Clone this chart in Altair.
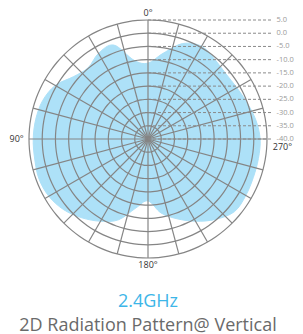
import altair as alt
import pandas as pd

# ---- data ----
ring_db = [5, 0, -5, -10, -15, -20, -25, -30, -35]
scale_db = [5, 0, -5, -10, -15, -20, -25, -30, -35, -40]
scale_text = ["5.0", "0.0", "-5.0", "-10.0", "-15.0", "-20.0", "-25.0", "-30.0", "-35.0", "-40.0"]
spoke_deg = list(range(0, 360, 15))

pattern_deg = list(range(0, 360, 10))
pattern_db = [-11.3, -9.8, -2.2, -2.6, -4.8, -3.3, 0.5, 2.4, 3.1, 3.4,
              3.5, 3.9, 3.3, 1.6, -1.1, -4.1, -7.5, -13.5, -16.6, -11.6,
              -7.9, -4.1, -0.3, 2.7, 2.7, 2.4, 2.4, 2.4, 1.4, -0.1,
              -1.2, -1.6, -0.7, 0.5, -1.6, -7.1]

angle_text = ["0°", "90°", "180°", "270°"]
angle_deg = [0, 90, 180, 270]

FLOOR = -40
R = 119
W = 2 * R
xs = alt.Scale(domain=[-45, 45], nice=False, zero=False)
ys = alt.Scale(domain=[-45, 45], nice=False, zero=False)

GRID = "#858585"
FILL = "#ade1f8"

pat = pd.DataFrame({"deg": pattern_deg, "db": pattern_db, "i": range(len(pattern_deg))})
pattern = alt.Chart(pat).transform_calculate(
    r=f"datum.db - ({FLOOR})"
).transform_calculate(
    x="-datum.r * sin(datum.deg * PI / 180)",
    y="datum.r * cos(datum.deg * PI / 180)",
).mark_line(interpolate="cardinal-closed", fill=FILL, stroke=FILL, strokeWidth=1).encode(
    x=alt.X("x:Q", scale=xs, axis=None),
    y=alt.Y("y:Q", scale=ys, axis=None),
    order="i:Q",
)

# grid circles traced around the centre and closed smoothly
ring_rows = [{"db": d, "deg": a, "i": k} for d in ring_db for k, a in enumerate(range(0, 360, 5))]
rings = alt.Chart(pd.DataFrame(ring_rows)).transform_calculate(
    r=f"datum.db - ({FLOOR})"
).transform_calculate(
    x="-datum.r * sin(datum.deg * PI / 180)",
    y="datum.r * cos(datum.deg * PI / 180)",
).mark_line(interpolate="cardinal-closed", stroke=GRID, strokeWidth=1.2).encode(
    x=alt.X("x:Q", scale=xs, axis=None),
    y=alt.Y("y:Q", scale=ys, axis=None),
    detail="db:N",
    order="i:Q",
)

spokes = alt.Chart(pd.DataFrame({"deg": spoke_deg})).transform_calculate(
    x0="0", y0="0",
    x1="-45 * sin(datum.deg * PI / 180)",
    y1="45 * cos(datum.deg * PI / 180)",
).mark_rule(stroke=GRID, strokeWidth=1.2).encode(
    x=alt.X("x0:Q", scale=xs, axis=None),
    y=alt.Y("y0:Q", scale=ys, axis=None),
    x2="x1:Q",
    y2="y1:Q",
)

sc = pd.DataFrame({"db": scale_db, "t": scale_text})
dashes = alt.Chart(sc).transform_calculate(
    y=f"datum.db - ({FLOOR})", x0="0", x1="46.9"
).mark_rule(stroke="#8a8a8a", strokeWidth=1, strokeDash=[3, 2]).encode(
    x=alt.X("x0:Q", scale=xs, axis=None),
    x2="x1:Q",
    y=alt.Y("y:Q", scale=ys, axis=None),
)
dash_labels = alt.Chart(sc).transform_calculate(
    y=f"datum.db - ({FLOOR})", x="48.6"
).mark_text(align="left", baseline="middle", fontSize=7.5, color="#9a9a9a",
            font="Open Sans").encode(
    x=alt.X("x:Q", scale=xs, axis=None),
    y=alt.Y("y:Q", scale=ys, axis=None),
    text="t:N",
)

ang = pd.DataFrame({"deg": angle_deg, "t": angle_text,
                    "rr": [47.6, 47, 47.8, 47.2],
                    "al": ["center", "right", "center", "left"],
                    "dy": [0, 0, 0, -3.1]})
angle_labels = alt.Chart(ang).transform_calculate(
    x="-datum.rr * sin(datum.deg * PI / 180)",
    y="datum.rr * cos(datum.deg * PI / 180) + datum.dy",
)
angle_parts = []
for a in ["center", "right", "left"]:
    angle_parts.append(
        angle_labels.transform_filter(f"datum.al == '{a}'").mark_text(
            align=a, baseline="middle", fontSize=9, color="#333333", font="Open Sans"
        ).encode(
            x=alt.X("x:Q", scale=xs, axis=None),
            y=alt.Y("y:Q", scale=ys, axis=None),
            text="t:N",
        )
    )

chart = alt.layer(pattern, rings, spokes, dashes, dash_labels, *angle_parts).properties(
    width=W, height=W,
    padding={"left": 21, "top": 12, "right": 28, "bottom": 76},
    autosize=alt.AutoSizeParams(type="none"),
    title=alt.TitleParams(
        text="2.4GHz", subtitle="2D Radiation Pattern@ Vertical",
        orient="bottom", anchor="middle", frame="group",
        font="Open Sans", fontSize=18, fontWeight="normal", color="#3db6e8",
        subtitleFont="Open Sans", subtitleFontSize=18, subtitleColor="#6a6a6a",
        subtitlePadding=6, offset=23,
    ),
).configure_view(stroke=None)

chart.save("out.html", embed_options={"renderer": "svg", "actions": False})
